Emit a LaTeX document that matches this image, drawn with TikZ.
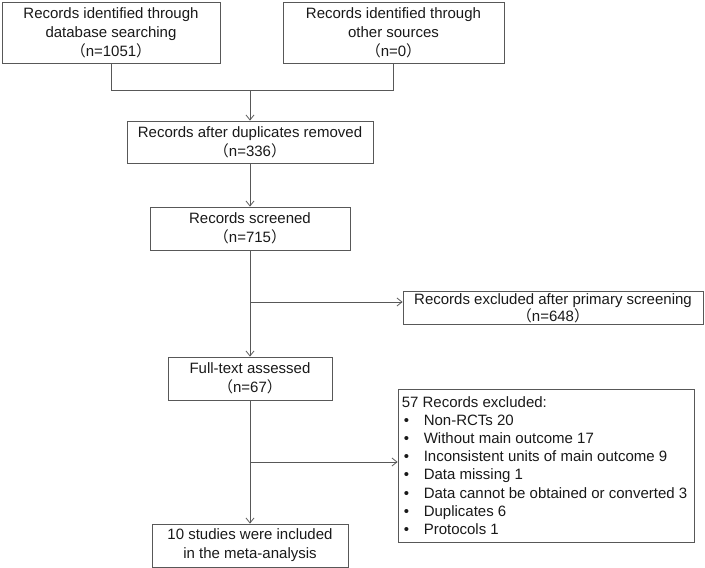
\documentclass[tikz,border=0pt]{standalone}
\usepackage{fontspec}
\setmainfont{Liberation Sans}
\newfontfamily\cjk{Noto Sans CJK SC}
\usetikzlibrary{arrows.meta}
\definecolor{linecol}{RGB}{88,88,88}
\definecolor{txtcol}{RGB}{25,25,25}
\newcommand{\fwl}{{\cjk （}}
\newcommand{\fwr}{{\cjk ）}}
\newcommand{\bitem}{\makebox[22pt][l]{\hspace{2pt}•}}
\begin{document}
\begin{tikzpicture}[x=1pt,y=-1pt,
  every node/.style={font=\fontsize{15}{19.2}\selectfont, text=txtcol},
  boxnode/.style={draw=linecol, line width=0.8pt, align=center, inner sep=0pt},
  conn/.style={draw=linecol, line width=0.8pt},
  arr/.style={conn, -{Straight Barb[length=5pt,width=8pt,line width=0.8pt]}}]
\useasboundingbox (0,0) rectangle (705,568);
\node[boxnode, minimum width=218pt, minimum height=61pt] (b1) at (111,32.5)
  {Records identified through\\database searching\\\fwl{}n=1051\fwr{}};
\node[boxnode, minimum width=221pt, minimum height=61pt] (b2) at (393.5,32.5)
  {Records identified through\\other sources\\\fwl{}n=0\fwr{}};
\node[boxnode, minimum width=246pt, minimum height=42pt] (b3) at (250,142)
  {Records after duplicates removed\\\fwl{}n=336\fwr{}};
\node[boxnode, minimum width=200pt, minimum height=43pt] (b4) at (250,228.5)
  {Records screened\\\fwl{}n=715\fwr{}};
\node[boxnode, minimum width=300pt, minimum height=33pt] (ex1) at (553,308)
  {Records excluded after primary screening\\[-2pt]\fwl{}n=648\fwr{}};
\node[boxnode, minimum width=164pt, minimum height=43pt] (b5) at (250,378.5)
  {Full-text assessed\\\fwl{}n=67\fwr{}};
\node[boxnode, minimum width=196pt, minimum height=43pt] (b6) at (250,545.5)
  {10 studies were included\\in the meta-analysis};
\node[boxnode, minimum width=296pt, minimum height=153pt] (ex2) at (546,465.5) {};
\node[align=left, anchor=west, inner sep=0pt, font=\fontsize{15}{18.2}\selectfont]
  (ex2t) at ([xshift=4pt]ex2.west)
  {57 Records excluded:\\
   \bitem Non-RCTs 20\\
   \bitem Without main outcome 17\\
   \bitem Inconsistent units of main outcome 9\\
   \bitem Data missing 1\\
   \bitem Data cannot be obtained or converted 3\\
   \bitem Duplicates 6\\
   \bitem Protocols 1};
\coordinate (j) at (250,90);
\coordinate (br1) at (250,302);
\coordinate (br2) at (250,462);
\draw[conn] (b1.south) |- (b2.south |- j) -- (b2.south);
\draw[arr] (j) -- (b3.north);
\draw[arr] (b3.south) -- (b4.north);
\draw[arr] (b4.south) -- (b5.north);
\draw[arr] (br1) -- (ex1.west |- br1);
\draw[arr] (b5.south) -- (b6.north);
\draw[arr] (br2) -- (ex2.west |- br2);
\end{tikzpicture}
\end{document}
